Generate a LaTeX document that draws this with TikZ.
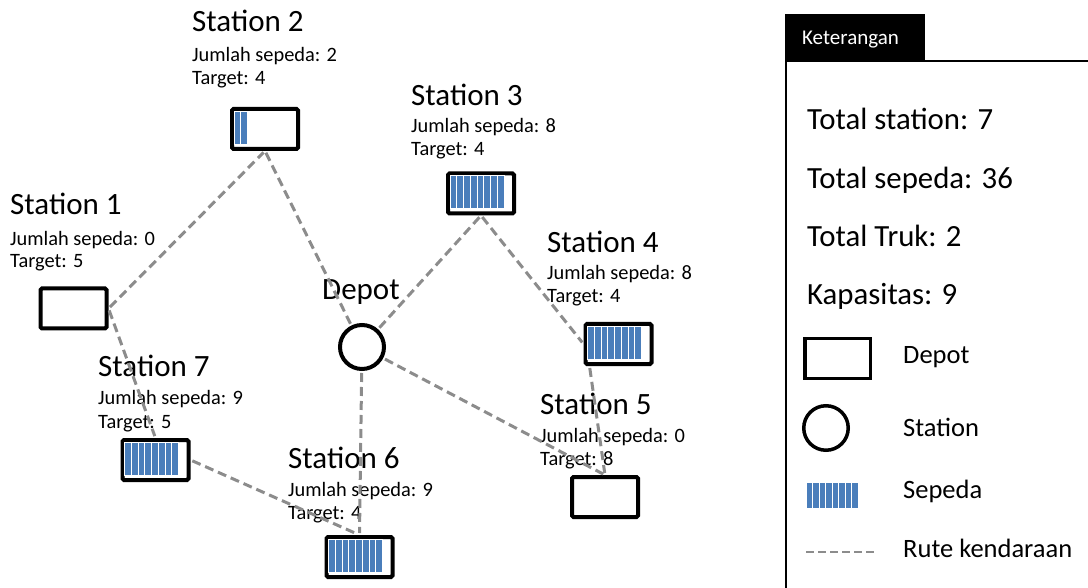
\documentclass[tikz,border=0pt]{standalone}
\usepackage{fontspec}
\setmainfont{Carlito}
\usetikzlibrary{calc}
\definecolor{bikeblue}{HTML}{4A7EBB}
\definecolor{routegray}{HTML}{8C8C8C}
\tikzset{
 title/.style={anchor=base west, inner sep=0pt, font=\fontsize{31}{37}\selectfont},
 info/.style={anchor=base west, inner sep=0pt, font=\fontsize{20.4}{24}\selectfont},
 legtext/.style={anchor=base west, inner sep=0pt, font=\fontsize{30.8}{37}\selectfont},
 legitem/.style={anchor=base west, inner sep=0pt, font=\fontsize{26.5}{32}\selectfont},
 stbox/.style={draw, line width=4pt, minimum width=66pt, minimum height=40pt, inner sep=0pt, rounded corners=1.5pt},
 depotc/.style={draw, circle, line width=4pt, minimum size=44pt, inner sep=0pt},
 bike/.style={fill=bikeblue, draw=white, line width=0.8pt},
 route/.style={draw=routegray, line width=3pt, dash pattern=on 9pt off 5pt, shorten >=2pt, shorten <=2pt},
}
\newcommand{\bikebars}[2]{\foreach \i in {1,...,#2}{\path[bike] ($(#1.north west)+({4+(\i-1)*6.75},4)$) rectangle ++(6.75,33);}}
\begin{document}
\begin{tikzpicture}[x=1pt,y=-1pt]
\useasboundingbox (0,0) rectangle (1088,588);
\clip (0,0) rectangle (1088,588);
% Station labels
\node[title] (t1) at (10,215) {Station 1};
\node[info] (j1) at (10,246) {Jumlah sepeda: 0};
\node[info] (g1) at (10,268) {Target: 5};
\node[title] (t2) at (192,32) {Station 2};
\node[info] (j2) at (192,62) {Jumlah sepeda: 2};
\node[info] (g2) at (192,85) {Target: 4};
\node[title] (t3) at (411,106) {Station 3};
\node[info] (j3) at (411,133) {Jumlah sepeda: 8};
\node[info] (g3) at (411,156) {Target: 4};
\node[title] (t4) at (547,253) {Station 4};
\node[info] (j4) at (547,280) {Jumlah sepeda: 8};
\node[info] (g4) at (547,303) {Target: 4};
\node[title] (t5) at (540,414) {Station 5};
\node[info] (j5) at (540,442) {Jumlah sepeda: 0};
\node[info] (g5) at (540,465) {Target: 8};
\node[title] (t6) at (288,468) {Station 6};
\node[info] (j6) at (288,496) {Jumlah sepeda: 9};
\node[info] (g6) at (288,519) {Target: 4};
\node[title] (t7) at (98,376) {Station 7};
\node[info] (j7) at (98,404) {Jumlah sepeda: 9};
\node[info] (g7) at (98,428) {Target: 5};
\node[title] (td) at (322,300) {Depot};
% boxes
\node[stbox] (s1) at (73.5,308.5) {};
\node[stbox] (s2) at (265,129) {};
\node[stbox] (s3) at (481,193.5) {};
\node[stbox] (s4) at (618.5,344) {};
\node[stbox] (s5) at (605,497) {};
\node[stbox] (s6) at (359.5,557) {};
\node[stbox] (s7) at (155.5,460) {};
\node[depotc] (dp) at (362,347) {};
\bikebars{s2}{2}
\bikebars{s3}{8}
\bikebars{s4}{8}
\bikebars{s6}{8}
\bikebars{s7}{8}
% routes
\draw[route] (s1.east) -- (s2.south);
\draw[route] (s2.south) -- (dp);
\draw[route] (s1.east) -- (s7.north);
\draw[route] (s7.east) -- (s6.north);
\draw[route] (dp) -- (s6.north);
\draw[route] (dp) -- (s3.south);
\draw[route] (s3.south) -- (s4.west);
\draw[route] ([xshift=6pt]s4.south west) -- (s5.north);
\draw[route] (dp) -- (s5.north);
% legend
\node[fill=black, minimum width=140pt, minimum height=46pt, anchor=north west, inner sep=0pt] (tab) at (785,14) {};
\node[anchor=base west, inner sep=0pt, text=white, font=\fontsize{21}{25}\selectfont] (tabt) at (802,45) {Keterangan};
\node[draw, line width=2pt, anchor=north west, minimum width=330pt, minimum height=560pt, inner sep=0pt] (legend) at (785,60) {};
\node[legtext] (l1) at (807,130) {Total station: 7};
\node[legtext] (l2) at (807,189) {Total sepeda: 36};
\node[legtext] (l3) at (807,247) {Total Truk: 2};
\node[legtext] (l4) at (807,305) {Kapasitas: 9};
\node[draw, line width=3.5pt, minimum width=65.5pt, minimum height=39.5pt, inner sep=0pt] (lgbox) at (837.5,358.5) {};
\node[legitem] (lgdepot) at (903,363) {Depot};
\node[draw, circle, line width=3.5pt, minimum size=44.5pt, inner sep=0pt] (lgcirc) at (826,428) {};
\node[legitem] (lgstation) at (903,436) {Station};
\coordinate (lgbike) at (806,482);
\foreach \i in {1,...,8}{\path[bike] ($(lgbike)+({(\i-1)*6.5},0)$) rectangle ++(6.5,26);}
\node[legitem] (lgsepeda) at (903,498) {Sepeda};
\coordinate (lr1) at (806,552);
\coordinate (lr2) at (876,552);
\draw[draw=routegray, line width=2.5pt, dash pattern=on 8pt off 4pt] (lr1) -- (lr2);
\node[legitem] (lgrute) at (903,557) {Rute kendaraan};
\end{tikzpicture}
\end{document}
